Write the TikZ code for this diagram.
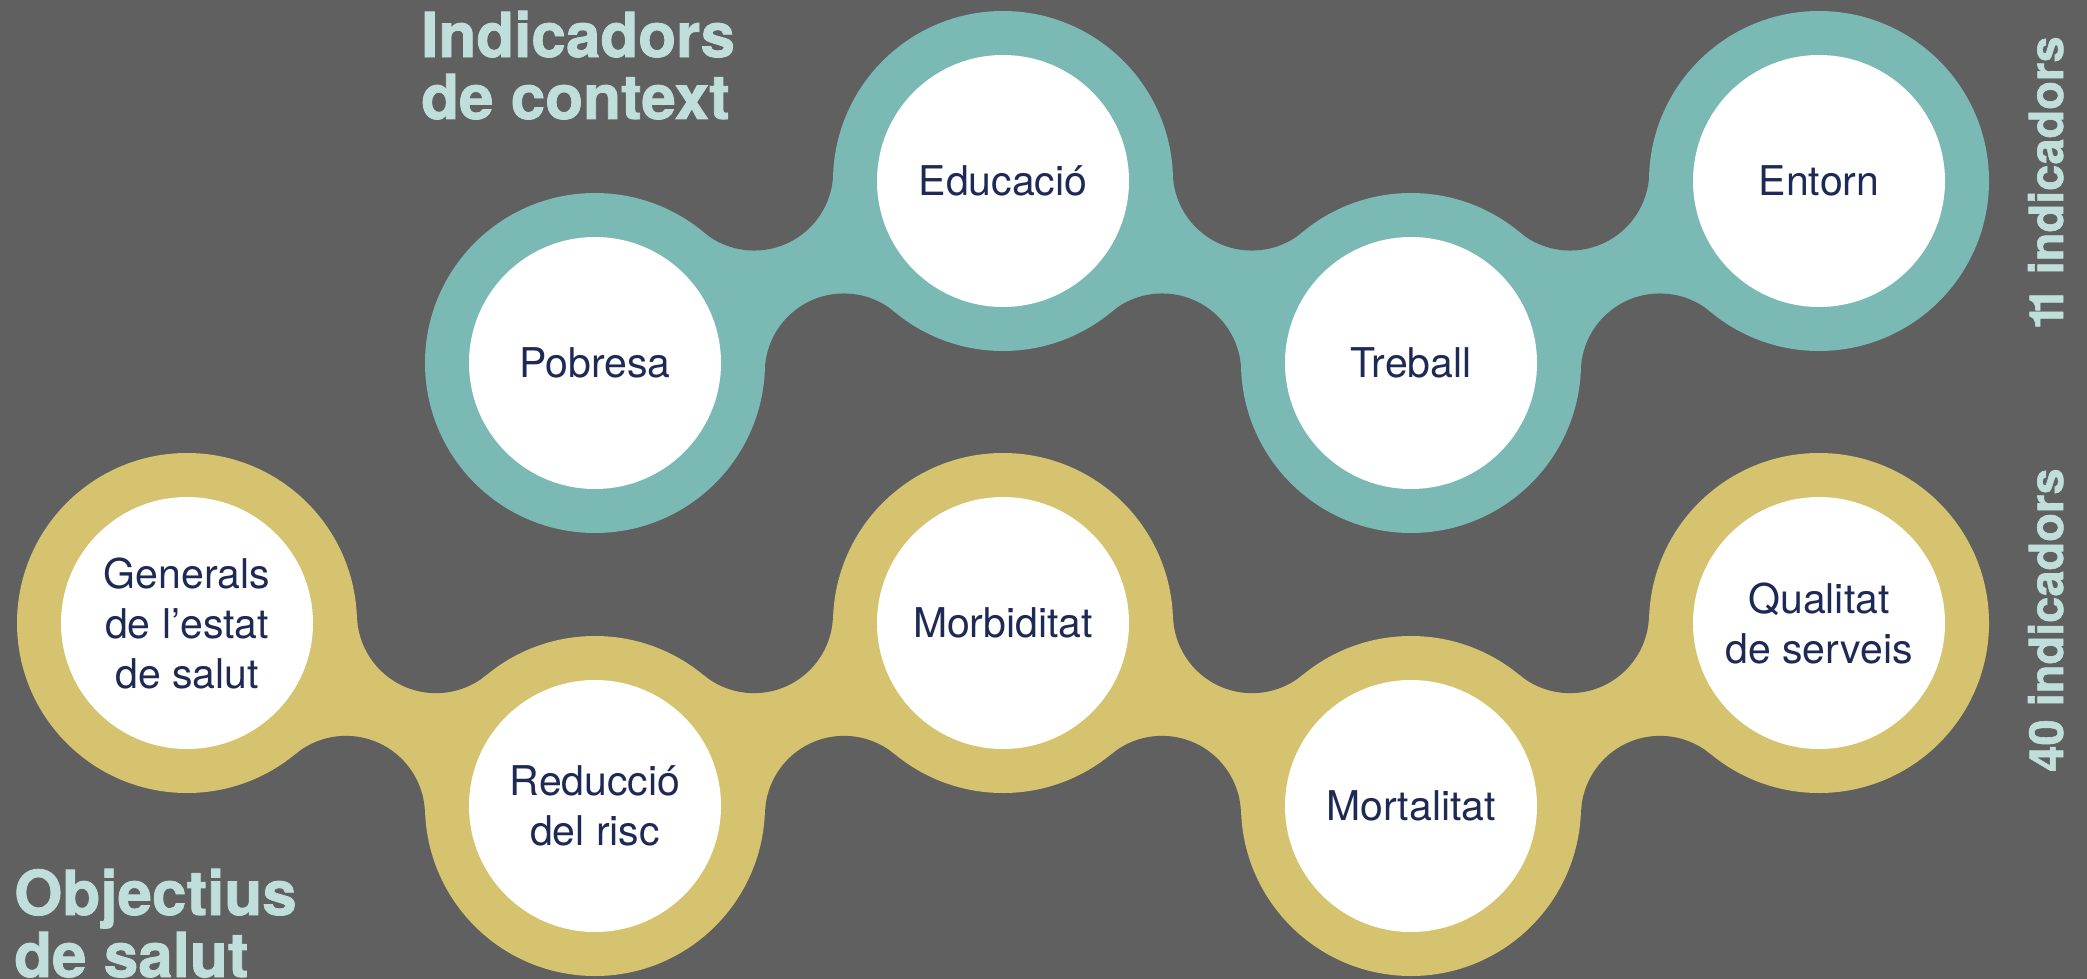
\documentclass[tikz,border=0pt]{standalone}
\usepackage{fontspec}
\setmainfont{TeX Gyre Heros}
\newfontfamily\heavyfont{TeX Gyre Heros}[BoldFeatures={FakeBold=1.2}]
\usetikzlibrary{calc}
\definecolor{bgc}{HTML}{606060}
\definecolor{tealc}{HTML}{7BB9B4}
\definecolor{yellc}{HTML}{D5C36F}
\definecolor{titlec}{HTML}{C0DFDB}
\definecolor{navyc}{HTML}{1E2A56}
\tikzset{
  bubble/.style={circle, fill=white, minimum size=252pt, inner sep=0pt, text=navyc,
    align=center, font=\fontsize{41}{50}\selectfont},
  ring/.style={fill=#1},
  bigtitle/.style={text=titlec, font=\heavyfont\fontsize{62}{62}\selectfont\bfseries, align=left, inner sep=0pt},
  countlabel/.style={text=titlec, font=\heavyfont\fontsize{47}{47}\selectfont\bfseries, inner sep=0pt,
    rotate=90, anchor=base},
}
% neck between two ring centres: filled quadrilateral minus two fillet disks
\newcommand\chainneck[3]{%
  \coordinate (nm) at ($(#1)!0.5!(#2)$);
  \coordinate (#1#2u) at ($(nm)!110pt!90:(#2)$);
  \coordinate (#1#2d) at ($(nm)!110pt!-90:(#2)$);
  \fill[#3] (#1) -- (#1#2u) -- (#2) -- (#1#2d) -- cycle;
  \fill[bgc] (#1#2u) circle (79pt) (#1#2d) circle (79pt);
}
\begin{document}
\begin{tikzpicture}[x=1pt,y=-1pt]
\fill[bgc] (0,0) rectangle (2087,979);
\useasboundingbox (0,0) rectangle (2087,979);
% ring centres
\coordinate (t1) at (595,363);
\coordinate (t2) at (1003,181);
\coordinate (t3) at (1411,363);
\coordinate (t4) at (1819,181);
\coordinate (g1) at (187,623);
\coordinate (g2) at (595,806);
\coordinate (g3) at (1003,623);
\coordinate (g4) at (1411,806);
\coordinate (g5) at (1819,623);
% necks
\chainneck{t1}{t2}{tealc}
\chainneck{t2}{t3}{tealc}
\chainneck{t3}{t4}{tealc}
\chainneck{g1}{g2}{yellc}
\chainneck{g2}{g3}{yellc}
\chainneck{g3}{g4}{yellc}
\chainneck{g4}{g5}{yellc}
% rings
\foreach \c in {t1,t2,t3,t4} \fill[ring=tealc] (\c) circle (170pt);
\foreach \c in {g1,g2,g3,g4,g5} \fill[ring=yellc] (\c) circle (170pt);
% bubbles
\node[bubble] (pob) at (t1) {Pobresa};
\node[bubble] (edu) at (t2) {Educació};
\node[bubble] (tre) at (t3) {Treball};
\node[bubble] (ent) at (t4) {Entorn};
\node[bubble] (gen) at (g1) {Generals\\de l’estat\\de salut};
\node[bubble] (red) at (g2) {Reducció\\del risc};
\node[bubble] (mor) at (g3) {Morbiditat};
\node[bubble] (mrt) at (g4) {Mortalitat};
\node[bubble] (qua) at (g5) {Qualitat\\de serveis};
% titles (base anchor = baseline of the last line)
\node[bigtitle, anchor=base west] (ttl1) at (421,119) {Indicadors\\de context};
\node[bigtitle, anchor=base west] (ttl2) at (14,977) {Objectius\\de salut};
\node[countlabel] (cnt1) at (2063,183) {1\kern-10pt 1 indicadors};
\node[countlabel] (cnt2) at (2063,620) {40 indicadors};
\end{tikzpicture}
\end{document}
